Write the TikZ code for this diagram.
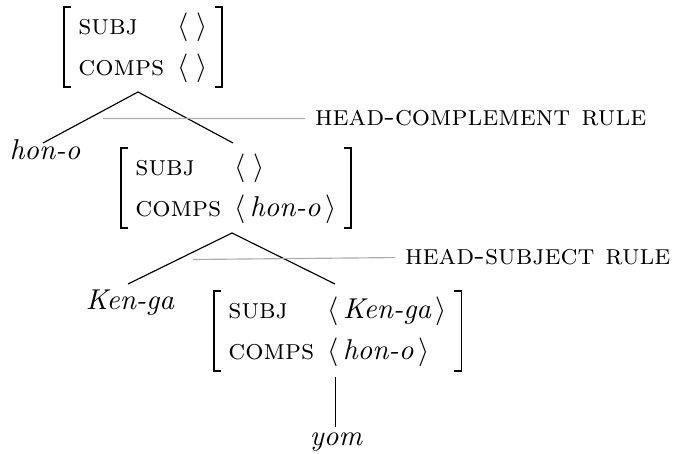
\documentclass[tikz,border=0pt]{standalone}
\usepackage{array}
\renewcommand{\arraystretch}{1.17}
\newcommand{\avmrows}[2]{$\begin{array}{@{}l@{\hspace{4.5pt}}l@{}}\textsc{subj} & #1\\ \textsc{comps} & #2\end{array}$}
\tikzset{
  avm/.style={inner xsep=5pt, inner ysep=0pt, outer sep=0pt, anchor=west},
  brack/.style={line width=0.6pt, black},
  word/.style={inner sep=0pt, outer sep=0pt, anchor=base, font=\itshape},
  rulelbl/.style={inner xsep=3.5pt, inner ysep=0pt, outer sep=0pt, anchor=base west},
  branch/.style={line width=0.4pt, black},
  ruleline/.style={line width=0.4pt, gray!65}
}
\newcommand{\brackets}[1]{%
  \draw[brack] ([xshift=2.5pt]#1.north west) -| (#1.south west) -- ++(2.5pt,0);
  \draw[brack] ([xshift=-2.5pt]#1.north east) -| (#1.south east) -- ++(-2.5pt,0);}
\begin{document}
\begin{tikzpicture}[x=0.3484pt, y=-0.3484pt]
\useasboundingbox (0,0) rectangle (675,454);
% feature structures
\node[avm] (avm1) at (64,47) {\avmrows{\langle\;\rangle}{\langle\;\rangle}};
\node[avm] (avm2) at (121,188) {\avmrows{\langle\;\rangle}{\langle\,\textit{hon-o}\,\rangle}};
\node[avm] (avm3) at (214,331) {\avmrows{\langle\,\textit{Ken-ga}\,\rangle}{\langle\,\textit{hon-o}\,\rangle}};
\brackets{avm1}
\brackets{avm2}
\brackets{avm3}
% words
\node[word] (hon) at (45,160) {hon-o};
\node[word] (ken) at (130,310) {Ken-ga};
\node[word] (yom) at (336,445) {yom};
% rule labels
\node[rulelbl] (hcr) at (305,126) {\textsc{head-complement rule}};
\node[rulelbl] (hsr) at (395,265) {\textsc{head-subject rule}};
% branching points
\coordinate (t1) at (138,92);
\coordinate (l1) at (43,143);
\coordinate (r1) at (233,143);
\coordinate (t2) at (232,233);
\coordinate (l2) at (128,284);
\coordinate (r2) at (335,284);
\coordinate (t3) at (335.5,377);
\coordinate (b3) at (335.5,427);
\coordinate (g1) at (103,118.5);
\coordinate (g2) at (193,259.5);
% connectors
\draw[branch] (l1) -- (t1) -- (r1);
\draw[branch] (l2) -- (t2) -- (r2);
\draw[branch] (t3) -- (b3);
\draw[ruleline] (g1) -- (hcr.west);
\draw[ruleline] (g2) -- (hsr.west);
\end{tikzpicture}
\end{document}
